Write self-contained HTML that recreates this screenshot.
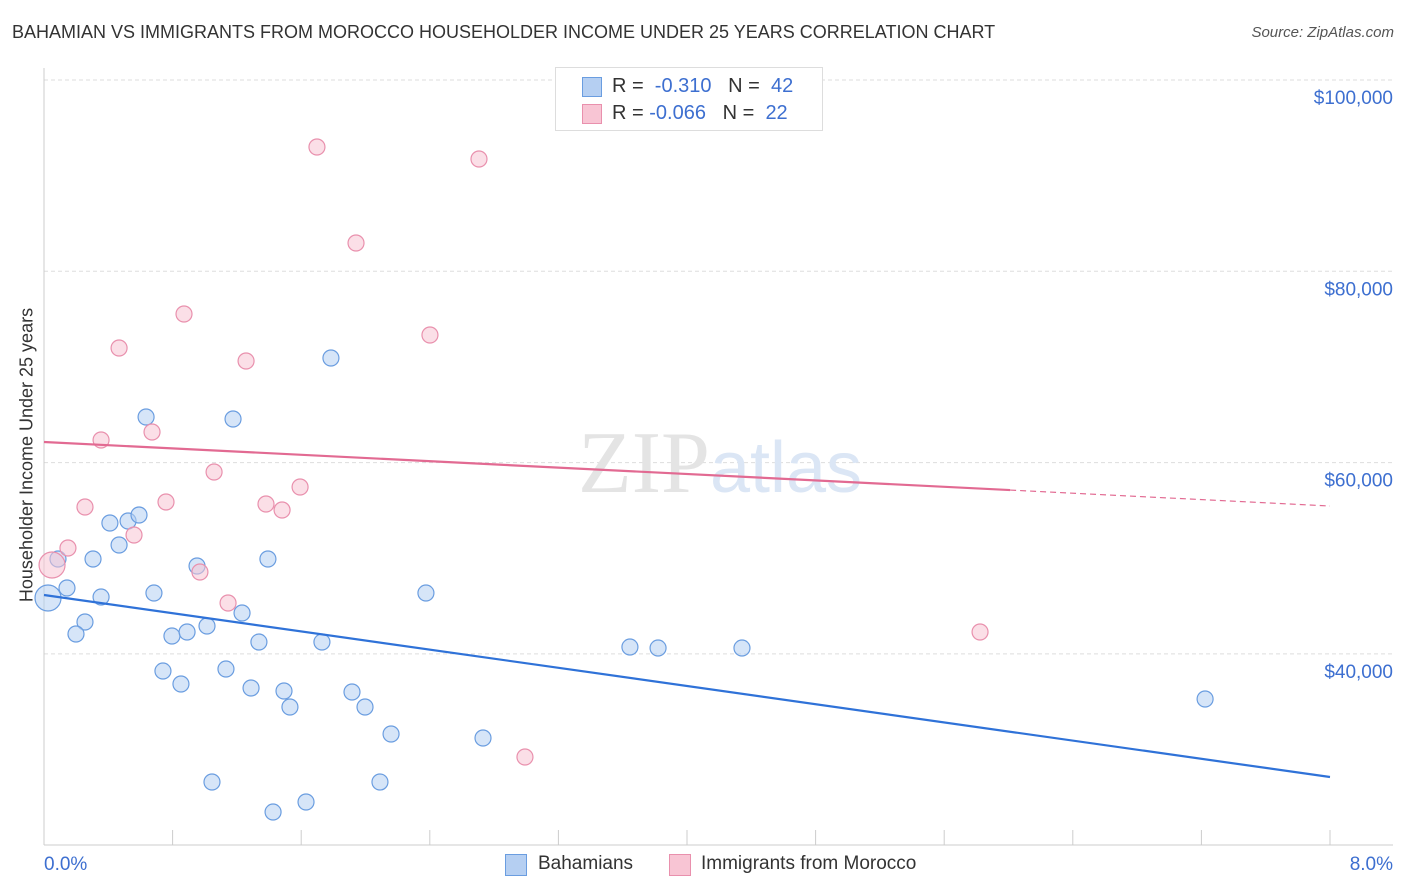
<!DOCTYPE html>
<html><head><meta charset="utf-8"><style>
body{margin:0;background:#fff;font-family:"Liberation Sans",sans-serif;}
#wrap{position:relative;width:1406px;height:892px;overflow:hidden;}
.t{position:absolute;white-space:nowrap;}
</style></head><body>
<div id="wrap">
<div class="t" style="left:12px;top:22px;font-size:18px;color:#333;">BAHAMIAN VS IMMIGRANTS FROM MOROCCO HOUSEHOLDER INCOME UNDER 25 YEARS CORRELATION CHART</div>
<div class="t" style="right:12px;top:24px;font-size:15px;color:#555;font-style:italic;">Source: ZipAtlas.com</div>
<svg id="plot" width="1406" height="892" style="position:absolute;left:0;top:0"></svg>
<div class="t" style="left:27px;top:455px;font-size:18px;color:#333;transform:translate(-50%,-50%) rotate(-90deg);">Householder Income Under 25 years</div>
</div>
<script>
const yTicks=[40000,60000,80000,100000];
const yTickLabels=["$40,000","$60,000","$80,000","$100,000"];
const xTickLabels=["0.0%","8.0%"];
const blueX=[0.025,0.087,0.143,0.255,0.199,0.305,0.355,0.41,0.467,0.523,0.591,0.635,0.684,0.74,0.796,0.852,0.89,0.952,1.014,1.045,1.132,1.176,1.232,1.288,1.337,1.393,1.493,1.53,1.425,1.63,1.729,1.785,1.916,1.997,2.09,2.159,2.376,2.731,3.645,3.82,4.342,7.223];
const blueY=[45843,49921,46889,43334,42079,49921,45946,53684,51384,53893,54521,64767,46365,38210,41869,36852,42289,49189,42916,26606,38419,64558,44275,36434,41242,49921,36120,34447,23469,24515,41242,70935,36015,34447,26606,31624,46365,31206,40719,40614,40614,35284];
const pinkX=[0.05,0.149,0.255,0.355,0.467,0.56,0.672,0.759,0.871,0.97,1.058,1.145,1.257,1.381,1.481,1.593,1.698,1.941,2.401,2.706,2.992,5.823];
const pinkY=[49293,51071,55357,62362,71981,52430,63198,55880,75535,48561,59016,45322,70622,55671,55044,57449,92995,82958,73340,91740,29220,42289];
const blueTrend=[46157,27129];
const pinkTrend=[62153,55462];
const pinkSolidEnd=6.01;

const NS="http://www.w3.org/2000/svg";
const svg=document.getElementById('plot');
const xs=v=>44+v/8*1286;
const ys=v=>80+(100000-v)*191.3/20000;
function mk(tag,a){const e=document.createElementNS(NS,tag);for(const k in a)e.setAttribute(k,a[k]);svg.appendChild(e);return e;}
yTicks.forEach((t,i)=>{
 const g=mk('line',{x1:44,x2:1393,y1:ys(t),y2:ys(t),stroke:'#ddd','stroke-dasharray':'4,3'});
 
 
 const tx=mk('text',{x:1393,y:ys(t)+24,'text-anchor':'end','font-size':19,fill:'#3d6fd0','font-family':'Liberation Sans'});
 tx.textContent=yTickLabels[i];
 
 
});
const ax=mk('line',{x1:44,x2:44,y1:68,y2:845,stroke:'#ccc'});


const bx=mk('line',{x1:44,x2:1393,y1:845,y2:845,stroke:'#ccc'});


for(let i=0;i<=10;i++){
 const tk=mk('line',{x1:xs(i*0.8),x2:xs(i*0.8),y1:830,y2:845,stroke:'#ccc'});
 
 
}
[[0,'start',44],[8,'end',1393]].forEach((p,i)=>{
 const tx=mk('text',{x:p[2],y:870,'text-anchor':p[1],'font-size':19,fill:'#3d6fd0','font-family':'Liberation Sans'});
 tx.textContent=xTickLabels[i];
 
 
});
const wm=mk('text',{x:720,y:492,'text-anchor':'middle','font-size':88,'font-family':'Liberation Serif',fill:'#e4e4e4'});
wm.innerHTML='ZIP<tspan font-family="Liberation Sans" fill="#dbe6f5" font-size="72">atlas</tspan>';


function pts(X,Y,fill,stroke,name){
 X.forEach((x,i)=>{
  const c=mk('circle',{cx:xs(x),cy:ys(Y[i]),r:i==0?13:8,fill:fill,stroke:stroke,'stroke-width':1.2,'fill-opacity':0.55});
  
  
 });
}
pts(blueX,blueY,'#b5cff2','#6a9de0','bahamian-point');
pts(pinkX,pinkY,'#f8c5d4','#e990ad','morocco-point');
const bl=mk('line',{x1:xs(0),y1:ys(blueTrend[0]),x2:xs(8),y2:ys(blueTrend[1]),stroke:'#2f72d8','stroke-width':2.2});


const pe=pinkTrend[0]+(pinkTrend[1]-pinkTrend[0])*pinkSolidEnd/8;
const pl=mk('line',{x1:xs(0),y1:ys(pinkTrend[0]),x2:xs(pinkSolidEnd),y2:ys(pe),stroke:'#e26a92','stroke-width':2.2});


const pd=mk('line',{x1:xs(pinkSolidEnd),y1:ys(pe),x2:xs(8),y2:ys(pinkTrend[1]),stroke:'#e26a92','stroke-width':1.2,'stroke-dasharray':'6,4'});


</script>
<div style="position:absolute;left:555px;top:67px;width:266px;height:62px;border:1px solid #ddd;background:#fff;font-size:20px;color:#333;">
 <div style="position:absolute;left:26px;top:9px;width:18px;height:18px;background:#b5cff2;border:1px solid #6a9de0;"></div>
 <div class="t" style="left:56px;top:7px;">R = &nbsp;<span style="color:#3d6fd0">-0.310</span> &nbsp; N = &nbsp;<span style="color:#3d6fd0">42</span></div>
 <div style="position:absolute;left:26px;top:36px;width:18px;height:18px;background:#f8c5d4;border:1px solid #e990ad;"></div>
 <div class="t" style="left:56px;top:34px;">R = <span style="color:#3d6fd0">-0.066</span> &nbsp; N = &nbsp;<span style="color:#3d6fd0">22</span></div>
</div>
<div style="position:absolute;left:505px;top:852px;font-size:19px;color:#333;">
 <div style="position:absolute;left:0;top:2px;width:20px;height:20px;background:#b5cff2;border:1px solid #6a9de0;"></div>
 <div class="t" style="left:33px;top:1px;">Bahamians</div>
 <div style="position:absolute;left:164px;top:2px;width:20px;height:20px;background:#f8c5d4;border:1px solid #e990ad;"></div>
 <div class="t" style="left:196px;top:1px;">Immigrants from Morocco</div>
</div>
</body></html>
